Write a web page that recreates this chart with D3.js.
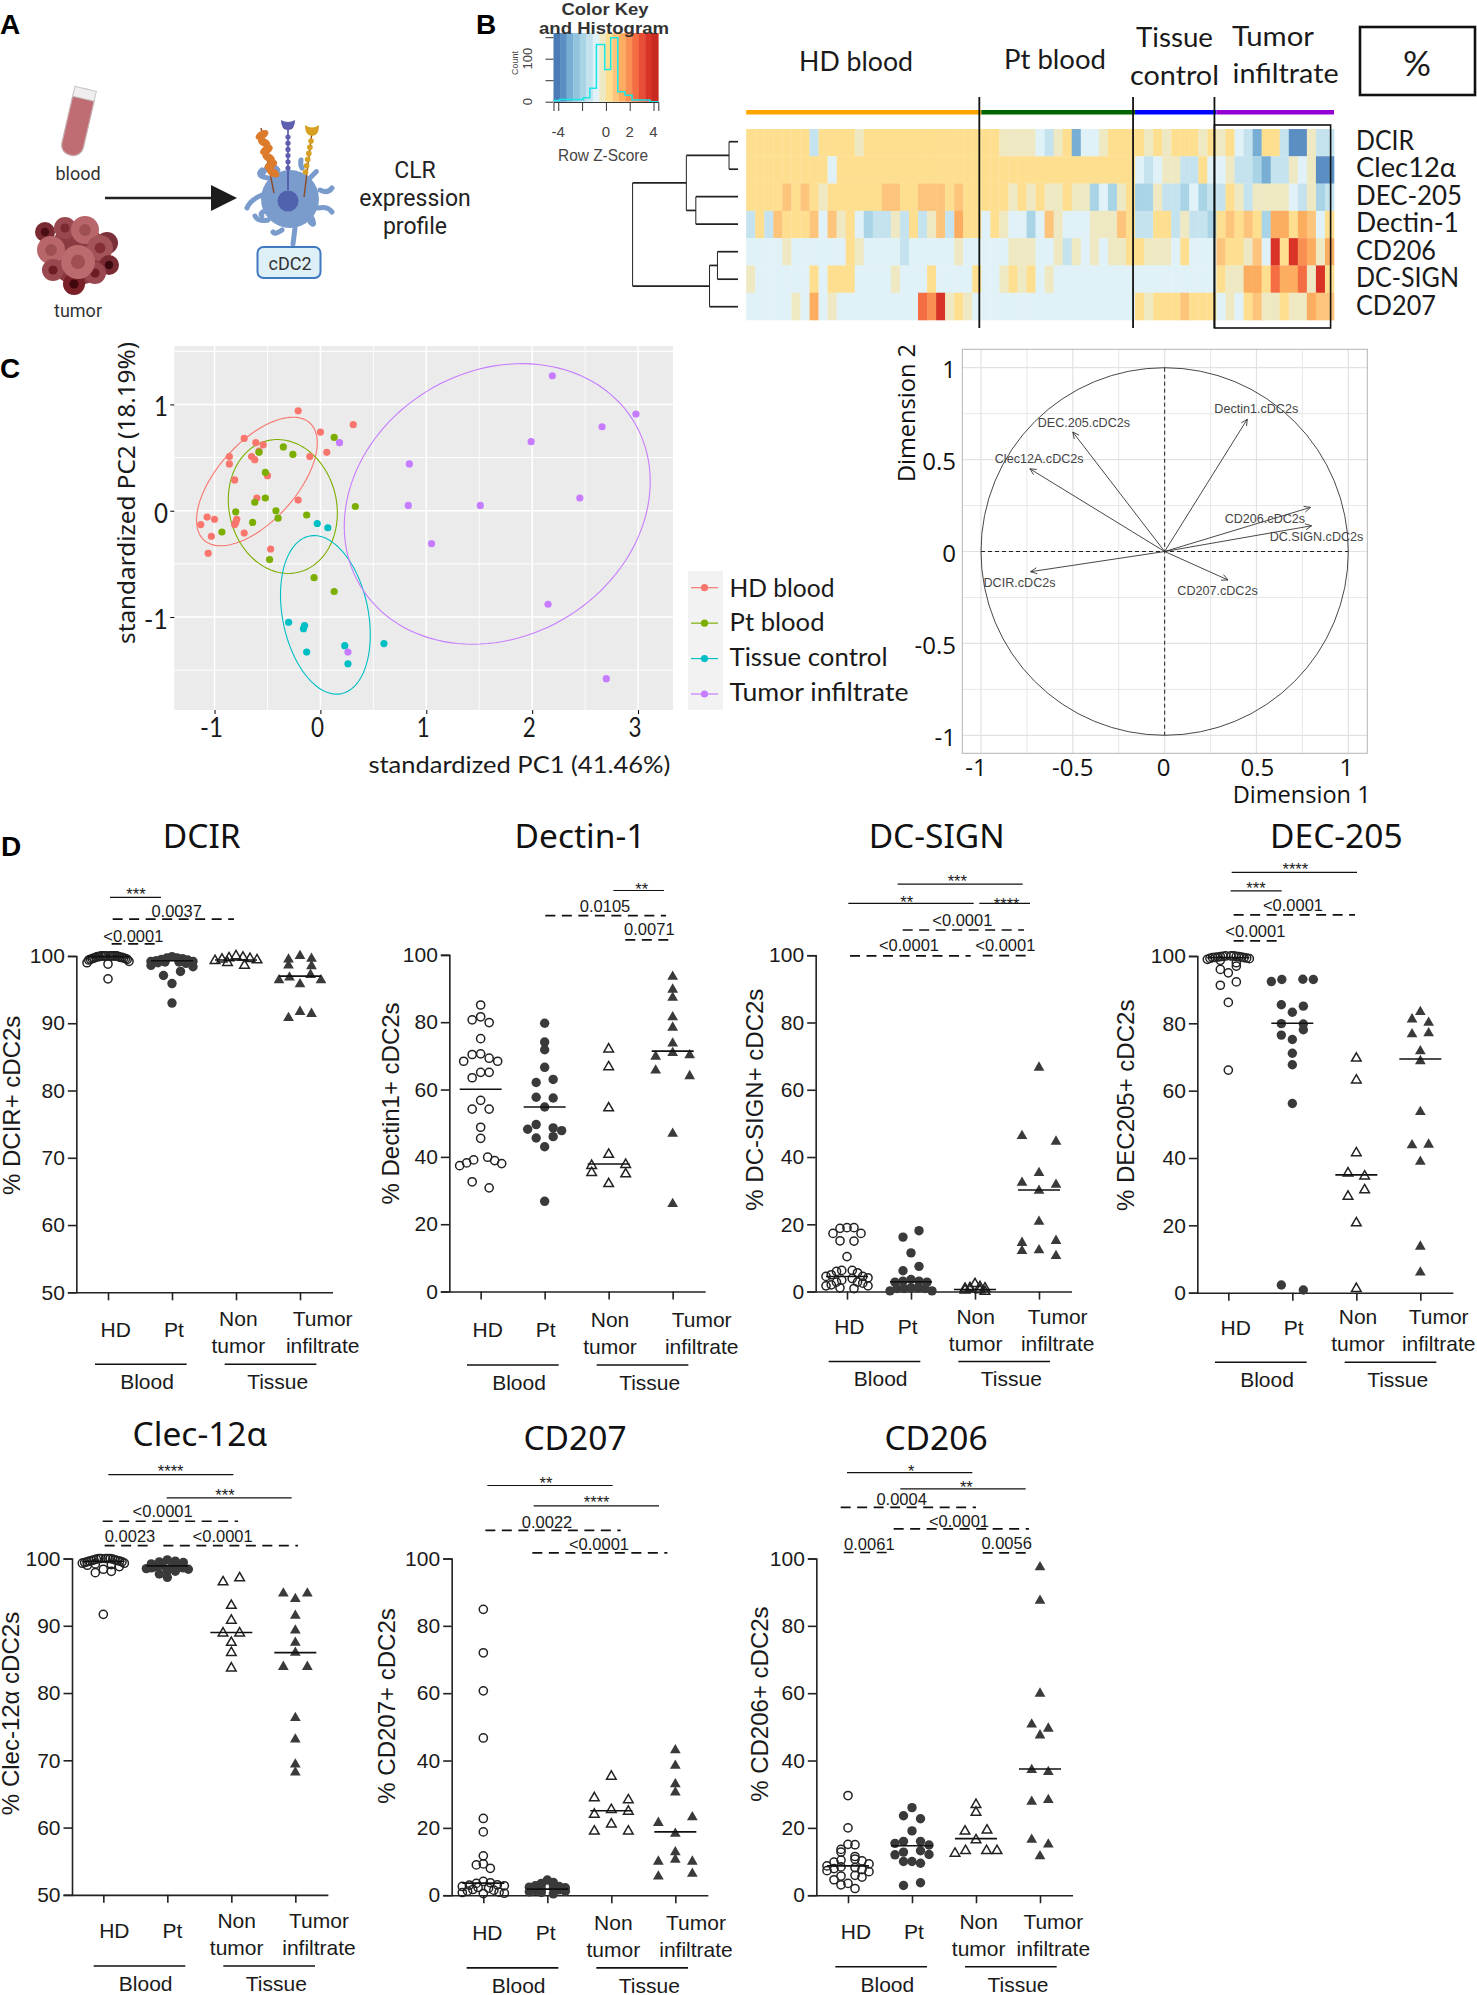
<!DOCTYPE html>
<html>
<head>
<meta charset="utf-8">
<script src="https://cdnjs.cloudflare.com/ajax/libs/d3/7.8.5/d3.min.js"></script>
<style>
  body { margin: 0; background: #fff; }
  svg { display: block; }
</style>
</head>
<body>
<svg id="fig" width="1477" height="1995"></svg>
<script>
// ---- panel B data ----
const heatLabels = ["DCIR", "Clec12α", "DEC-205", "Dectin-1", "CD206", "DC-SIGN", "CD207"];
// one letter per sample, letters are the z-score bins of heatBins
const heatRows = [
  "ggggggg d gggg f ggggggggggggggg ffff e d f g b ee f ggg g f g f ggg f g f g e d b gg d aa f dd",
  "ggggggggg e ggggggggggggggggggggggggggggggggg e d e ff dd g e e f dd c b dd f e f aa",
  "gggg h g h g f gggggg hh gg hhh g h ggggg f g f g ff g ff c e c f g cc f dd c e c d d g f d ffff e d f c d",
  "d g d h ggg h e h f g e c dd f d g d f h d i gg e g f ee c e h f eee fff h g dd gg d f dd c g h g h g c ii g i h e g",
  "eeee f eeeeee g f eeee d eeeee f eeeee fff ee f d f e f e ff g g fff e g eee h g g f h e l g l j i f i",
  "f eeeeee g e ggg eeee f eee g eeee g ee f g f g e f eeeeeeeee eeeeeeeee g f f i i g k i i k f l g",
  "eeeee f e i e f eeeeeeeee k j l f g f e eeeeeeeeeeeeeeeee g f ggg h ggg e f e g h f f g f f i h h"
];
const heatBins = { a: -3, b: -2.4, c: -1.8, d: -1.2, e: -0.6, f: 0, g: 0.6, h: 1.2, i: 1.6, j: 2.2, k: 2.8, l: 3.6 };
const heatBinColors = ["#5b8fc4", "#78add4", "#a8d4e6", "#c4e3ee", "#e0f2f7", "#eee8c3", "#fedf90", "#fdc47c", "#fdad60", "#f98f53", "#f46d43", "#d93327"];
const heatGroupSizes = [26, 17, 9, 13];
const heatGroupColors = ["#ffa500", "#006400", "#0000ff", "#9400d3"];
const keyColors = ["#4a7bb5", "#5b8fc4", "#78add4", "#94c3dd", "#a8d4e6", "#c4e3ee", "#e0f2f7", "#eee8c3", "#fedf90", "#fdc47c", "#fdad60", "#f98f53", "#f46d43", "#e64f35", "#d93327", "#c92a20"];
const keyEdges = [-4.4, -3.9, -1.9, -1.35, -0.8, -0.1, 0.4, 1, 1.6, 2.2, 3.7, 4.4];
const keyCounts = [3, 5, 9, 31, 133, 75, 149, 23, 15, 4, 0];
// merge heights of the row dendrogram, leaves are row indices
const dendroTree = { h: 1, kids: [
  { h: 0.49, kids: [{ h: 0.085, kids: [0, 1] }, { h: 0.4, kids: [2, 3] }] },
  { h: 0.27, kids: [{ h: 0.195, kids: [4, 5] }, 6] }
] };

// ---- panel C data ----
const pcaGroups = ["HD blood", "Pt blood", "Tissue control", "Tumor infiltrate"];
const pcaColors = ["#F8766D", "#7CAE00", "#00BFC4", "#C77CFF"];
const pcaHD = [[-0.21,0.94],[0,0.74],[0.31,0.81],[0.06,0.55],[-0.1,0.51],[-0.21,0.1],[-0.72,0.68],[-0.61,0.64],[-0.54,0.62],[-0.58,0.56],[-0.65,0.51],[-0.62,0.48],[-0.86,0.51],[-0.86,0.44],[-0.5,0.33],[-0.81,0.29],[-0.6,0.12],[-1.07,-0.06],[-1,-0.08],[-1.13,-0.13],[-1.03,-0.24],[-0.79,-0.08],[-0.81,-0.13],[-0.72,-0.21],[-0.47,-0.36],[-1.06,-0.4],[-0.8,-0.11]];
const pcaPt = [[0.13,0.69],[-0.35,0.6],[-0.58,0.55],[-0.26,0.53],[-0.52,0.36],[-0.52,0.12],[-0.62,0.08],[0.33,0.04],[-0.8,-0.01],[-0.42,0],[-0.4,-0.07],[-0.13,-0.04],[-0.64,-0.11],[-0.93,-0.2],[-0.48,-0.46],[-0.06,-0.63],[0.13,-0.76]];
const pcaTissue = [[-0.03,-0.12],[0.07,-0.16],[-0.3,-1.05],[-0.15,-1.08],[-0.16,-1.11],[0.23,-1.27],[0.6,-1.25],[-0.13,-1.33],[0.26,-1.44]];
const pcaTumor = [[2.19,1.27],[2.98,0.91],[2.66,0.79],[1.99,0.65],[0.18,0.64],[0.84,0.44],[2.45,0.12],[0.83,0.05],[1.51,0.05],[1.05,-0.31],[2.15,-0.88],[2.7,-1.58],[0.26,-1.33]];
// centre x, centre y, half width, half height, correlation
const pcaEllipses = [[-0.6,0.275,0.57,0.605,0.6],[-0.355,0.04,0.515,0.63,-0.1],[0.047,-0.98,0.424,0.746,-0.25],[1.67,0.064,1.445,1.32,0.16]];

// ---- correlation circle data ----
const varNames = ["DCIR.cDC2s", "Clec12A.cDC2s", "DEC.205.cDC2s", "Dectin1.cDC2s", "CD206.cDC2s", "DC.SIGN.cDC2s", "CD207.cDC2s"];
const varDim1 = [-0.73, -0.734, -0.5, 0.45, 0.794, 0.8, 0.345];
const varDim2 = [-0.11, 0.45, 0.65, 0.72, 0.24, 0.14, -0.155];
const varLabelDim1 = [-0.79, -0.683, -0.44, 0.499, 0.546, 0.827, 0.288];
const varLabelDim2 = [-0.174, 0.503, 0.699, 0.776, 0.178, 0.08, -0.214];

// ---- panel D data ----
const dcirHD = [100,100,100,100,100,100,100,100,100,99.9,99.9,99.9,99.8,99.8,99.8,99.7,99.7,99.6,99.6,99.5,99.5,99.4,99.2,99,98.8,96.6];
const dcirPt = [99.9,99.7,99.7,99.6,99.5,99.4,99.3,99.2,99.2,99.1,99.1,99,98.9,98.6,98.4,97.7,97.1,95.9,93];
const dcirNon = [100,99.8,99.7,99.6,99.5,99.4,99.3,99,98.6];
const dcirTum = [100,99.6,99.5,98.6,98.5,97.2,96.8,96.4,96.4,95.8,91.7,91.4,90.8];
const dcirMed = [99.9, 99.3, 99.4, 97];
const dectinHD = [85.1,81.6,79.9,80.7,75.1,70.6,70.4,69.3,68.4,68.4,65.1,65.1,63.5,56.8,54.2,54.2,48.8,45.5,39.9,39.1,38.9,38.2,38,37.4,32.6,30.8];
const dectinPt = [79.7,74.1,71.8,66.6,63,62.1,57.5,57.7,54.8,49.6,48.6,48.2,47.8,45.6,46,43,26.8];
const dectinNon = [72,66.7,54.5,40.7,37.4,37.7,34.9,35.3,32];
const dectinTum = [93.5,89.7,87.3,81.5,78.4,73.7,70.9,70.2,69.8,65.7,64,46.9,26];
const dectinMed = [60.1, 54.8, 37.9, 71.4];
const dcsignHD = [18.8,19,19,17.3,17.3,15.1,15,10.4,6.3,6.3,6,5.6,5,4.5,4.5,4.1,3.9,3.4,2.8,2.8,2.5,2,1.7,1.7,1.1,0.9];
const dcsignPt = [18.1,16.2,11.5,7.5,6.2,3.6,3.1,3.1,2.8,2.8,1.1,1.1,0.9,0.9,0.9,0.2,0.2];
const dcsignNon = [2.3,1.4,1.1,1,0.9,0.7,0.5,0.4,0];
const dcsignTum = [66.6,46.3,44.6,35.3,32.4,31.8,30,20.8,15.1,14.5,12.3,12.1,10.6];
const dcsignMed = [4.5, 2.9, 0.6, 30.2];
const dec205HD = [100,100,100,99.9,99.9,99.8,99.8,99.7,99.7,99.6,99.5,99.5,99.4,99.3,99.2,99,98.7,98,97,96,95,92.3,91.3,86.2,66.1];
const dec205Pt = [93,93.1,92.4,93,85.5,83.3,85.1,79.8,79.9,78.1,76.5,75.2,71.1,67.7,56.2,2.3,0.8];
const dec205Non = [69.6,63.1,41.5,35.5,34.6,30.5,28.6,20.7,1.2];
const dec205Tum = [83.4,80.2,77.1,81.2,76.8,71.7,68.8,53.7,44,43.8,38.9,13.7,6];
const dec205Med = [99.5, 80, 35, 69.4];
const clecHD = [100,100,100,100,100,99.9,99.9,99.8,99.8,99.7,99.7,99.6,99.6,99.5,99.5,99.4,99.3,99.3,99.2,99.1,99,98.8,98.4,98.1,97.9,91.7];
const clecPt = [99.8,99.6,99.5,99.4,99.2,99,98.9,98.8,98.8,98.6,98.6,98.5,98.4,98.2,98.1,97.7,97.2];
const clecNon = [97.1,96.5,93,90.8,88.9,88.9,87.5,86,83.7];
const clecTum = [94.8,94.8,94,91.5,89.3,87.5,86,83.9,83.9,76.3,73.1,69.4,68.2];
const clecMed = [99.6, 98.9, 89, 86];
const cd207HD = [84.9,72,60.7,46.7,22.8,18.8,11.7,9.3,9,8,4.1,3.7,3.5,3.1,3,2.8,2.6,2.3,2.1,1.7,1.5,1.2,0.9,0.8,0.6,0.5];
const cd207Pt = [4.5,3.8,3.5,3.2,3,2.8,2.6,2.4,2.2,2,1.8,1.6,1.4,1.2,1,0.8,0.4];
const cd207Non = [35.3,28.9,28.3,25.4,24.9,24,21.1,19,19];
const cd207Tum = [43.1,38.5,33,30.5,23.2,21.5,18.3,12.8,10.6,10,10,6.4,5.6];
const cd207Med = [3.6, 1.8, 25.1, 18.8];
const cd206HD = [29.6,20,15.1,15,13.6,12.8,11.5,10.7,10.4,10.2,9.8,9.3,8.7,8.4,8.2,7.9,7.6,7.3,7,5.9,5.7,5.4,4.6,3.5,3.1,2];
const cd206Pt = [26,23.6,22.7,19.1,16,16,15.4,14.9,13.2,12.8,12.1,12,10,10,9.5,3.7,2.9];
const cd206Non = [26.9,24.6,19.3,19,16.4,13.2,13.2,13.2,12.4];
const cd206Tum = [97.4,87.5,59.9,50.7,49.5,47.5,37.2,36.6,28.3,27.8,16.5,15.1,11.6];
const cd206Med = [8.7, 14.7, 16.8, 37.5];

// ---- significance brackets, [x1, x2, y, label, label x, label y] in crop units of the panel ----
const dcirBars = [[330,483,232,"***",408,212],[338,702,290,"0.0037",530,268],[335,478,356,"<0.0001",400,335]];
const dectinBars = [[730,882,214,"**",815,200],[526,888,281,"0.0105",705,254],[766,908,345,"0.0071",838,316]];
const dcsignBars = [[503,878,197,"***",682,177],[355,731,248,"**",530,235],[748,900,248,"****",830,238],[518,882,319,"<0.0001",697,292],[360,722,388,"<0.0001",537,360],[758,903,387,"<0.0001",826,360]];
const dec205Bars = [[404,780,166,"****",595,145],[401,554,215,"***",477,196],[410,774,279,"<0.0001",588,252],[410,555,348,"<0.0001",475,322]];
const clecBars = [[325,700,185,"****",512,165],[500,875,247,"***",675,228],[308,714,309,"<0.0001",488,282],[314,460,374,"0.0023",390,347],[490,894,374,"<0.0001",668,347]];
const cd207Bars = [[352,728,214,"**",528,198],[491,867,268,"****",680,248],[346,752,333,"0.0022",531,310],[487,892,393,"<0.0001",687,370]];
const cd206Bars = [[351,727,180,"*",544,165],[511,887,223,"**",709,208],[332,738,272,"0.0004",515,250],[491,897,329,"<0.0001",687,307],[341,487,392,"0.0061",418,370],[758,902,393,"0.0056",830,367]];

const ARIAL = '"Liberation Sans", Arial, sans-serif';
const NARROW = '"Liberation Sans Narrow", "Liberation Sans", sans-serif';
const LATO = 'Lato, "Open Sans", sans-serif';
const NOTO = '"Noto Sans", "Open Sans", sans-serif';
const ROBOTO = 'Roboto, "Open Sans", sans-serif';
const OPEN = '"Open Sans", sans-serif';

const svg = d3.select("#fig");

function addText(parent, x, y, str, o) {
    o = o || {};
    const t = parent.append("text")
        .attr("x", x).attr("y", y)
        .attr("text-anchor", o.anchor || "middle")
        .attr("dominant-baseline", o.base || "central")
        .style("font-family", o.font || ARIAL)
        .style("font-size", (o.size || 16) + "px")
        .style("fill", o.color || "#1a1a1a")
        .text(str);
    if (o.weight) t.style("font-weight", o.weight);
    if (o.len) t.attr("textLength", o.len).attr("lengthAdjust", "spacingAndGlyphs");
    if (o.rot) t.attr("transform", `rotate(${o.rot} ${x} ${y})`);
    return t;
}

// ---- panel A, small sketch of blood, tumor and a cDC2 ----
function drawSchematic() {
    const a = svg.append("g");

    // blood tube
    const tube = a.append("g").attr("transform", "translate(78,122) rotate(13)");
    tube.append("rect").attr("x", -11).attr("y", -34).attr("width", 22).attr("height", 68).attr("rx", 10)
        .attr("fill", "#bf6d73").attr("stroke", "#c7aeb0").attr("stroke-width", 1.2);
    tube.append("rect").attr("x", -11).attr("y", -34).attr("width", 22).attr("height", 10).attr("fill", "#f0eeee").attr("stroke", "#c9c9c9");
    addText(a, 78, 173, "blood", { size: 18, font: ROBOTO, color: "#333" });

    // tumor: a clump of cells
    a.append("circle").attr("cx", 78).attr("cy", 255).attr("r", 30).attr("fill", "#8a3a42");
    const tumorCells = [[45,232,10,"#7a2a33","#4a0d14"],[65,228,11,"#9a4850","#7a2a33"],[85,230,14,"#b9666b","#9e4f52"],[107,243,11,"#7a3038","#5a1a22"],[100,248,13,"#a35459","#842f38"],[51,250,14,"#b9666b","#9e4f52"],[53,270,11,"#9a4850","#6d1d26"],[109,265,10,"#7a2a33","#3c0810"],[95,273,11,"#9a4850","#6d1d26"],[74,284,11,"#7a2028","#42070d"],[78,262,17,"#bb6a6d","#a14f52"]];
    tumorCells.forEach(c => {
        a.append("circle").attr("cx", c[0]).attr("cy", c[1]).attr("r", c[2]).attr("fill", c[3]);
        a.append("circle").attr("cx", c[0]).attr("cy", c[1]).attr("r", c[2] * 0.42).attr("fill", c[4]);
    });
    addText(a, 78, 310, "tumor", { size: 18, font: ROBOTO, color: "#333" });

    // arrow
    a.append("line").attr("x1", 105).attr("y1", 198).attr("x2", 215).attr("y2", 198).attr("stroke", "#222").attr("stroke-width", 2.5);
    a.append("path").attr("d", "M211,185 L237,198 L211,211 Z").attr("fill", "#1c1c1c");

    // cell body and dendrites
    const dendrites = ["M262,195 Q250,200 247,208", "M268,178 Q255,176 262,170", "M278,170 Q270,160 262,175", "M320,190 Q328,194 332,188", "M310,178 Q318,170 316,172", "M268,220 Q258,222 255,216", "M282,230 Q275,235 273,232", "M295,228 L293,244", "M310,222 Q316,228 312,218", "M318,208 Q328,206 332,212", "M302,168 Q300,165 301,160", "M270,210 Q258,212 262,216"];
    a.append("g").selectAll("path").data(dendrites).join("path").attr("d", d => d)
        .attr("fill", "none").attr("stroke", "#7a9ccc").attr("stroke-width", 5).attr("stroke-linecap", "round");
    a.append("circle").attr("cx", 290).attr("cy", 199).attr("r", 29).attr("fill", "#7a9ccc");
    a.append("circle").attr("cx", 288).attr("cy", 201).attr("r", 10.5).attr("fill", "#5062ad");

    // receptors
    a.append("line").attr("x1", 261).attr("y1", 128).attr("x2", 274).attr("y2", 193).attr("stroke", "#8b4a26").attr("stroke-width", 1.4);
    d3.range(6).forEach(i => {
        a.append("ellipse").attr("cx", 262 + i * 2.2).attr("cy", 135 + i * 7.5).attr("rx", 7).attr("ry", 4)
            .attr("transform", `rotate(${i % 2 ? 30 : -30} ${262 + i * 2.2} ${135 + i * 7.5})`).attr("fill", "#dc7b2b");
    });
    a.append("line").attr("x1", 288).attr("y1", 125).attr("x2", 288).attr("y2", 190).attr("stroke", "#4f50a6").attr("stroke-width", 1.6);
    d3.range(6).forEach(i => a.append("circle").attr("cx", 288).attr("cy", 137 + i * 6.2).attr("r", 2.6).attr("fill", "#5f5eb0"));
    a.append("path").attr("d", "M281,120 Q288,124 295,120 Q295,130 288,130 Q281,130 281,120 Z").attr("fill", "#5f5eb0");
    a.append("line").attr("x1", 312).attr("y1", 132).attr("x2", 304).attr("y2", 197).attr("stroke", "#8b4a26").attr("stroke-width", 1.4);
    d3.range(6).forEach(i => a.append("circle").attr("cx", 311 - i * 1.1).attr("cy", 141 + i * 6.2).attr("r", 2.8).attr("fill", "#d8a021"));
    a.append("path").attr("d", "M305,125 Q312,130 319,125 Q319,136 312,136 Q305,136 305,125 Z").attr("fill", "#d8a021");

    a.append("rect").attr("x", 257.5).attr("y", 247).attr("width", 63).attr("height", 31).attr("rx", 6)
        .attr("fill", "#def0f7").attr("stroke", "#3f79c0").attr("stroke-width", 2);
    addText(a, 290, 263, "cDC2", { size: 18, font: ROBOTO, color: "#333" });

    addText(a, 415, 170, "CLR", { size: 23, font: ROBOTO, color: "#222" });
    addText(a, 415, 198, "expression", { size: 23, font: ROBOTO, color: "#222" });
    addText(a, 415, 226, "profile", { size: 23, font: ROBOTO, color: "#222" });
}

// ---- panel B ----
function drawHeatmap() {
    const nCols = d3.sum(heatGroupSizes);
    const g = svg.append("g");
    const x = d3.scaleLinear([0, nCols], [746.2, 1334]);
    const y = d3.scaleBand(d3.range(heatLabels.length), [129, 320]);
    const color = d3.scaleOrdinal(Object.values(heatBins), heatBinColors);

    heatRows.forEach((row, r) => {
        const z = row.replace(/ /g, "").split("").map(c => heatBins[c]);
        g.append("g").selectAll("rect").data(z).join("rect")
            .attr("x", (d, i) => x(i)).attr("y", y(r))
            .attr("width", x(1) - x(0) + 0.3).attr("height", y.bandwidth() + 0.3)
            .attr("fill", d => color(d));
    });

    // group colour bar and separators
    let start = 0;
    heatGroupSizes.forEach((n, i) => {
        g.append("rect").attr("x", x(start)).attr("y", 110).attr("width", x(n) - x(0)).attr("height", 4.5).attr("fill", heatGroupColors[i]);
        if (i > 0) g.append("line").attr("x1", x(start) - 2).attr("x2", x(start) - 2).attr("y1", 97).attr("y2", 328).attr("stroke", "#111").attr("stroke-width", 1.8);
        start += n;
    });
    const tumorLeft = x(nCols - 13) - 2;
    g.append("rect").attr("x", tumorLeft).attr("y", 125).attr("width", 1330.6 - tumorLeft).attr("height", 203)
        .attr("fill", "none").attr("stroke", "#111").attr("stroke-width", 1.6);

    addText(g, 856, 60, "HD blood", { font: LATO, size: 27, len: 114 });
    addText(g, 1055, 58, "Pt blood", { font: LATO, size: 27, len: 102 });
    addText(g, 1174.5, 36, "Tissue", { font: LATO, size: 27, len: 77 });
    addText(g, 1174.5, 74, "control", { font: LATO, size: 27, len: 89 });
    addText(g, 1273, 35, "Tumor", { font: LATO, size: 27, len: 82 });
    addText(g, 1285.6, 72, "infiltrate", { font: LATO, size: 27, len: 106 });

    g.append("rect").attr("x", 1360).attr("y", 27).attr("width", 115).attr("height", 68).attr("fill", "none").attr("stroke", "#111").attr("stroke-width", 2.6);
    addText(g, 1417, 62, "%", { font: LATO, size: 34, len: 28 });

    const leafY = d3.scalePoint(d3.range(heatLabels.length), [141.7, 306.7]);
    const labelW = [58, 100, 106, 103, 80, 103, 80];
    heatLabels.forEach((s, i) => addText(g, 1356, leafY(i) - 2, s, { anchor: "start", font: LATO, size: 26, len: labelW[i] }));

    // dendrogram
    const h = d3.scaleLinear([0, 1], [738, 632.6]);
    function walk(node) {
        if (typeof node === "number") return { x: h(0), y: leafY(node) };
        const pts = node.kids.map(walk);
        const nx = h(node.h), ny = d3.mean(pts, p => p.y);
        g.append("line").attr("x1", nx).attr("x2", nx).attr("y1", pts[0].y).attr("y2", pts[1].y).attr("stroke", "#222").attr("stroke-width", 1);
        pts.forEach(p => g.append("line").attr("x1", nx).attr("x2", p.x).attr("y1", p.y).attr("y2", p.y).attr("stroke", "#222").attr("stroke-width", 1.7));
        return { x: nx, y: ny };
    }
    walk(dendroTree);

    // colour key with histogram
    const keyX = d3.scaleLinear([-4.4, 4.4], [553.5, 658.3]);
    const keyY = d3.scaleLinear([0, 100], [101.7, 58.7]);
    const band = d3.scaleBand(d3.range(keyColors.length), keyX.range());
    g.append("g").selectAll("rect").data(keyColors).join("rect")
        .attr("x", (d, i) => band(i)).attr("y", 33).attr("width", band.bandwidth() + 0.3).attr("height", 68.7).attr("fill", d => d);
    const histPts = keyCounts.map((c, i) => [keyEdges[i], c]).concat([[keyEdges[keyEdges.length - 1], 0]]);
    g.append("path").attr("d", d3.line().curve(d3.curveStepAfter).x(d => keyX(d[0])).y(d => keyY(d[1]))(histPts))
        .attr("fill", "none").attr("stroke", "#19e6e6").attr("stroke-width", 1.5);
    const kAxis = g.append("g").attr("transform", "translate(0,102)")
        .call(d3.axisBottom(keyX).tickValues([-4, -2, 0, 2, 4]).tickSize(9).tickFormat(""));
    kAxis.select(".domain").attr("stroke", "#333");
    kAxis.selectAll("line").attr("stroke", "#333");
    [-4, 0, 2, 4].forEach(v => addText(g, keyX(v), 131, v, { font: NARROW, size: 15, color: "#444" }));
    const kyAxis = g.append("g").attr("transform", "translate(553.5,0)")
        .call(d3.axisLeft(keyY).tickValues([0, 50, 100, 150]).tickSize(8).tickFormat(""));
    kyAxis.select(".domain").remove();
    kyAxis.selectAll("line").attr("stroke", "#333");
    addText(g, 528, 101.7, "0", { font: NARROW, size: 13, rot: -90, color: "#444" });
    addText(g, 528, 58.7, "100", { font: NARROW, size: 13, rot: -90, color: "#444" });
    addText(g, 515, 63, "Count", { font: NARROW, size: 9, rot: -90, color: "#444" });
    addText(g, 605, 9, "Color Key", { font: NARROW, size: 17, weight: 700, len: 87, color: "#333" });
    addText(g, 604, 28, "and Histogram", { font: NARROW, size: 17, weight: 700, len: 130, color: "#333" });
    addText(g, 603, 155, "Row Z-Score", { font: NARROW, size: 16, len: 90, color: "#444" });
}

// ---- panel C, scatter ----
function drawPca() {
    const g = svg.append("g");
    const x = d3.scaleLinear([-1.38, 3.33], [174.3, 673]);
    const y = d3.scaleLinear([-1.875, 1.55], [710, 346]);
    g.append("rect").attr("x", 174.3).attr("y", 346).attr("width", 498.7).attr("height", 364).attr("fill", "#ebebeb");

    [-0.5, 0.5, 1.5, 2.5].forEach(v => g.append("line").attr("x1", x(v)).attr("x2", x(v)).attr("y1", 346).attr("y2", 710).attr("stroke", "#fff").attr("stroke-width", 0.8));
    [-1.5, -0.5, 0.5, 1.5].forEach(v => g.append("line").attr("y1", y(v)).attr("y2", y(v)).attr("x1", 174.3).attr("x2", 673).attr("stroke", "#fff").attr("stroke-width", 1));
    [-1, 0, 1, 2, 3].forEach(v => g.append("line").attr("x1", x(v)).attr("x2", x(v)).attr("y1", 346).attr("y2", 710).attr("stroke", "#fff").attr("stroke-width", 1.5));
    [-1, 0, 1].forEach(v => g.append("line").attr("y1", y(v)).attr("y2", y(v)).attr("x1", 174.3).attr("x2", 673).attr("stroke", "#fff").attr("stroke-width", 1.5));

    const ell = d3.line().curve(d3.curveLinearClosed);
    pcaEllipses.forEach((e, i) => {
        const pts = d3.range(0, 2 * Math.PI, 0.05).map(t => [x(e[0] + e[2] * Math.cos(t)), y(e[1] + e[3] * Math.cos(t - Math.acos(e[4])))]);
        g.append("path").attr("d", ell(pts)).attr("fill", "none").attr("stroke", pcaColors[i]).attr("stroke-width", 1.1);
    });
    [pcaHD, pcaPt, pcaTissue, pcaTumor].forEach((pts, i) => {
        g.append("g").selectAll("circle").data(pts).join("circle")
            .attr("cx", d => x(d[0])).attr("cy", d => y(d[1])).attr("r", 3.6).attr("fill", pcaColors[i]);
    });

    const xa = g.append("g").attr("transform", "translate(0,710)").call(d3.axisBottom(x).tickValues([-1, 0, 1, 2, 3]).tickSize(4).tickFormat(""));
    xa.select(".domain").remove();
    const ya = g.append("g").attr("transform", "translate(174.3,0)").call(d3.axisLeft(y).tickValues([-1, 0, 1]).tickSize(4).tickFormat(""));
    ya.select(".domain").remove();
    [-1, 0, 1, 2, 3].forEach(v => addText(g, x(v) - 3, 727, v, { font: LATO, size: 26, len: v < 0 ? 23 : 13 }));
    [-1, 0, 1].forEach(v => addText(g, 168, y(v) + 2, v, { anchor: "end", font: LATO, size: 26, len: v < 0 ? 24 : 14 }));

    addText(g, 519.4, 763, "standardized PC1 (41.46%)", { font: LATO, size: 24, len: 302 });
    addText(g, 126, 493, "standardized PC2 (18.19%)", { font: NOTO, size: 23, len: 302, rot: -90 });

    // legend
    g.append("rect").attr("x", 688).attr("y", 571).attr("width", 35).attr("height", 139).attr("fill", "#f2f2f2");
    const legY = d3.scalePoint(pcaGroups, [587.7, 694]);
    const legW = [105, 95, 158, 179];
    pcaGroups.forEach((s, i) => {
        g.append("line").attr("x1", 691).attr("x2", 718).attr("y1", legY(s)).attr("y2", legY(s)).attr("stroke", pcaColors[i]).attr("stroke-width", 1.2);
        g.append("circle").attr("cx", 704.5).attr("cy", legY(s)).attr("r", 3.6).attr("fill", pcaColors[i]);
        addText(g, 729.5, legY(s) - 1 - i * 0.7, s, { anchor: "start", font: LATO, size: 25, len: legW[i] });
    });
}

// ---- panel C, correlation circle ----
function drawCircle() {
    const g = svg.append("g");
    const x = d3.scaleLinear([-1, 1], [981, 1348.3]);
    const y = d3.scaleLinear([-1, 1], [735.3, 367.7]);
    const gridVals = d3.range(-1, 1.01, 0.25);
    gridVals.forEach(v => {
        const w = Math.abs(v * 2 % 1) < 1e-9 ? 1.2 : 0.8;
        g.append("line").attr("x1", x(v)).attr("x2", x(v)).attr("y1", 349.3).attr("y2", 753.3).attr("stroke", "#e2e2e2").attr("stroke-width", w);
        g.append("line").attr("y1", y(v)).attr("y2", y(v)).attr("x1", 962.3).attr("x2", 1367.3).attr("stroke", "#e2e2e2").attr("stroke-width", w);
    });
    g.append("rect").attr("x", 962.3).attr("y", 349.3).attr("width", 405).attr("height", 404).attr("fill", "none").attr("stroke", "#b5b5b5").attr("stroke-width", 1);
    g.append("ellipse").attr("cx", x(0)).attr("cy", y(0)).attr("rx", x(1) - x(0)).attr("ry", y(0) - y(1)).attr("fill", "none").attr("stroke", "#333").attr("stroke-width", 0.9);
    g.append("line").attr("x1", x(-1)).attr("x2", x(1)).attr("y1", y(0)).attr("y2", y(0)).attr("stroke", "#222").attr("stroke-dasharray", "4,3");
    g.append("line").attr("x1", x(0)).attr("x2", x(0)).attr("y1", y(1)).attr("y2", y(-1)).attr("stroke", "#222").attr("stroke-dasharray", "4,3");

    varNames.forEach((name, i) => {
        const tx = x(varDim1[i]), ty = y(varDim2[i]);
        const a = Math.atan2(ty - y(0), tx - x(0));
        const head = [a + 0.45, a - 0.45].map(b => [tx - 7 * Math.cos(b), ty - 7 * Math.sin(b)]);
        g.append("path").attr("d", `M${x(0)},${y(0)} L${tx},${ty} M${head[0]} L${tx},${ty} L${head[1]}`)
            .attr("fill", "none").attr("stroke", "#333").attr("stroke-width", 0.9);
        addText(g, x(varLabelDim1[i]), y(varLabelDim2[i]), name, { size: 12.6, color: "#444" });
    });

    const tickX = [-1, -0.5, 0, 0.5, 1];
    const tickShiftX = [-5, 0, -1, 1, -2];
    tickX.forEach((v, i) => addText(g, x(v) + tickShiftX[i], 766, v, { font: OPEN, size: 24, color: "#111" }));
    tickX.forEach(v => addText(g, 956, y(v) + 1, v, { anchor: "end", font: OPEN, size: 24, color: "#111" }));
    addText(g, 1301.7, 794, "Dimension 1", { font: OPEN, size: 23, len: 138, color: "#111" });
    addText(g, 906, 413, "Dimension 2", { font: OPEN, size: 23, len: 138, rot: -90, color: "#111" });
}

// ---- panel D ----
// graphpad style scatter: bin close values in a row, spread each row around the group centre
function swarm(values, yScale, step, binPx) {
    const sorted = values.slice().sort(d3.descending);
    const bins = [];
    sorted.forEach(v => {
        const last = bins[bins.length - 1];
        if (last && yScale(v) - yScale(last[0]) < binPx) last.push(v);
        else bins.push([v]);
    });
    const placed = [];
    bins.forEach((bin, bi) => {
        const n = bin.length;
        const s = n > 1 ? Math.min(step, (n % 2 ? 42 / (n - 1) : 42 / n)) : step;
        bin.forEach((v, i) => {
            const flip = bi % 2 ? -1 : 1;
            let col;
            if (n % 2) col = i === 0 ? 0 : (i % 2 ? (i + 1) / 2 : -i / 2);
            else col = i % 2 ? -(i + 1) / 2 : (i + 2) / 2;
            placed.push({ dx: col * flip * s, py: yScale(v), v });
        });
    });
    return placed;
}

const panels = [
    { title: "DCIR", yLabel: "% DCIR+ cDC2s", series: [dcirHD, dcirPt, dcirNon, dcirTum], med: dcirMed, bars: dcirBars, domain: [50, 100], ox: 0, oy: 810, ax: 229, top: 388, bot: 1282, t0: 324, titleX: 605, titleY: 67, ylx: 36, yly: 785, hdOff: 23, ptOff: 198, nonOff: 391, tumOff: 644, ly: 1380, swarm: [[8.5, 8], [8.5, 5], [8.5, 5], [11.5, 8]] },
    { title: "Dectin-1", yLabel: "% Dectin1+ cDC2s", series: [dectinHD, dectinPt, dectinNon, dectinTum], med: dectinMed, bars: dectinBars, domain: [0, 100], ox: 370, oy: 810, ax: 238, top: 385, bot: 1280, t0: 332, titleX: 630, titleY: 67, ylx: 62, yly: 780, hdOff: 21, ptOff: 195, nonOff: 388, tumOff: 663, ly: 1382, swarm: [[8.5, 9], [8.5, 7], [17, 7], [17, 7]] },
    { title: "DC-SIGN", yLabel: "% DC-SIGN+ cDC2s", series: [dcsignHD, dcsignPt, dcsignNon, dcsignTum], med: dcsignMed, bars: dcsignBars, domain: [0, 100], ox: 730, oy: 810, ax: 257, top: 386, bot: 1280, t0: 351, titleX: 620, titleY: 67, ylx: 73, yly: 770, hdOff: 7, ptOff: 182, nonOff: 386, tumOff: 632, ly: 1373, swarm: [[7, 8], [8, 8], [5, 5], [17, 7]] },
    { title: "DEC-205", yLabel: "% DEC205+ cDC2s", series: [dec205HD, dec205Pt, dec205Non, dec205Tum], med: dec205Med, bars: dec205Bars, domain: [0, 100], ox: 1097, oy: 810, ax: 301, top: 388, bot: 1283, t0: 394, titleX: 718, titleY: 67, ylx: 87, yly: 785, hdOff: 22, ptOff: 196, nonOff: 389, tumOff: 631, ly: 1375, swarm: [[8, 4], [11, 6], [8.3, 7], [8.3, 6]] },
    { title: "Clec-12α", yLabel: "% Clec-12α cDC2s", series: [clecHD, clecPt, clecNon, clecTum], med: clecMed, bars: clecBars, domain: [50, 100], ox: 0, oy: 1405, ax: 216, top: 408, bot: 1302, t0: 310, titleX: 600, titleY: 75, ylx: 33, yly: 820, hdOff: 33, ptOff: 207, nonOff: 400, tumOff: 647, ly: 1398, swarm: [[8, 5], [8, 5], [8.3, 5], [12, 5]] },
    { title: "CD207", yLabel: "% CD207+ cDC2s", series: [cd207HD, cd207Pt, cd207Non, cd207Tum], med: cd207Med, bars: cd207Bars, domain: [0, 100], ox: 370, oy: 1405, ax: 245, top: 408, bot: 1303, t0: 340, titleX: 615, titleY: 85, ylx: 50, yly: 800, hdOff: 12, ptOff: 187, nonOff: 390, tumOff: 638, ly: 1403, swarm: [[7, 6], [6, 4], [17, 5], [17, 6]] },
    { title: "CD206", yLabel: "% CD206+ cDC2s", series: [cd206HD, cd206Pt, cd206Non, cd206Tum], med: cd206Med, bars: cd206Bars, domain: [0, 100], ox: 730, oy: 1405, ax: 259, top: 408, bot: 1303, t0: 354, titleX: 618, titleY: 85, ylx: 90, yly: 795, hdOff: 24, ptOff: 198, nonOff: 392, tumOff: 616, ly: 1400, swarm: [[7, 7], [8.5, 6], [11, 6], [8.3, 6]] }
];

const triFilled = d3.symbol().type(d3.symbolTriangle).size(50);
const triOpen = d3.symbol().type(d3.symbolTriangle).size(40);

function drawDotPanels() {
    panels.forEach(p => {
        // p's layout numbers come from crops, 3x wide and 2.658x tall
        const c = z => z / 3;
        const cy = z => z / 2.658;
        const g = svg.append("g").attr("transform", `translate(${p.ox},${p.oy})`);
        const tick0 = c(p.t0), spacing = 64;
        const x = d3.scaleLinear([0, 3], [tick0, tick0 + 3 * spacing]);
        const y = d3.scaleLinear(p.domain, [cy(p.bot), cy(p.top)]);

        const yAxis = d3.axisLeft(y).tickSizeOuter(0).tickSize(8.5)
            .tickValues(p.domain[0] === 50 ? [50, 60, 70, 80, 90, 100] : [0, 20, 40, 60, 80, 100]);
        const yg = g.append("g").attr("transform", `translate(${c(p.ax)},0)`).call(yAxis);
        const xg = g.append("g").attr("transform", `translate(0,${cy(p.bot)})`)
            .call(d3.axisBottom(d3.scaleLinear([x.invert(c(p.ax)), x.invert(tick0 + 3 * spacing + 32.5)], [c(p.ax), tick0 + 3 * spacing + 32.5]))
                .tickValues([0, 1, 2, 3]).tickSize(8).tickSizeOuter(0).tickFormat(""));
        [yg, xg].forEach(a => {
            a.selectAll("path,line").attr("stroke", "#222").attr("stroke-width", 1.6);
        });
        yg.selectAll("text").style("font-family", ARIAL).style("font-size", "21px").style("fill", "#1a1a1a");

        p.series.forEach((vals, gi) => {
            const step = p.swarm[gi][0], binPx = p.swarm[gi][1];
            const pts = swarm(vals, y, step, binPx);
            const layer = g.append("g");
            const cx = x(gi);
            if (gi < 2) {
                layer.selectAll("circle").data(pts).join("circle")
                    .attr("cx", d => cx + d.dx).attr("cy", d => d.py)
                    .attr("r", gi === 0 ? 4.1 : 4.7)
                    .attr("fill", gi === 0 ? "none" : "#3a3a3a")
                    .attr("stroke", gi === 0 ? "#222" : "none").attr("stroke-width", 1.5);
            } else {
                layer.selectAll("path").data(pts).join("path")
                    .attr("d", gi === 2 ? triOpen : triFilled)
                    .attr("transform", d => `translate(${cx + d.dx},${d.py})`)
                    .attr("fill", gi === 2 ? "none" : "#3a3a3a")
                    .attr("stroke", gi === 2 ? "#222" : "none").attr("stroke-width", 1.5);
            }
            layer.append("line").attr("x1", cx - 21).attr("x2", cx + 21)
                .attr("y1", y(p.med[gi])).attr("y2", y(p.med[gi])).attr("stroke", "#111").attr("stroke-width", 1.6);
        });

        // category labels under the axis
        const base = p.ly, d = p.hdOff;
        addText(g, c(p.t0 + d), cy(base), "HD", { size: 21 });
        addText(g, c(p.t0 + p.ptOff), cy(base), "Pt", { size: 21 });
        addText(g, c(p.t0 + p.nonOff), cy(base - 28), "Non", { size: 21 });
        addText(g, c(p.t0 + p.nonOff), cy(base + 44), "tumor", { size: 21 });
        addText(g, c(p.t0 + p.tumOff), cy(base - 28), "Tumor", { size: 21 });
        addText(g, c(p.t0 + p.tumOff), cy(base + 44), "infiltrate", { size: 21 });
        [[d - 62, d + 213, d + 94, "Blood"], [d + 327, d + 602, d + 486, "Tissue"]].forEach(b => {
            g.append("line").attr("x1", c(p.t0 + b[0])).attr("x2", c(p.t0 + b[1])).attr("y1", cy(base + 93)).attr("y2", cy(base + 93)).attr("stroke", "#111").attr("stroke-width", 1.6);
            addText(g, c(p.t0 + b[2]), cy(base + 139), b[3], { size: 21 });
        });

        addText(g, c(p.titleX), cy(p.titleY), p.title, { font: NOTO, size: 33.5, color: "#111" });
        addText(g, c(p.ylx), cy(p.yly), p.yLabel, { size: 24, rot: -90 });

        // significance brackets
        p.bars.forEach(b => {
            const stars = b[3].indexOf("*") >= 0;
            g.append("line").attr("x1", c(b[0])).attr("x2", c(b[1])).attr("y1", cy(b[2])).attr("y2", cy(b[2]))
                .attr("stroke", "#111").attr("stroke-width", stars ? 1.2 : 1.7)
                .attr("stroke-dasharray", stars ? null : "10,6.5");
            if (stars) addText(g, c(b[4]), cy(b[5]) + 4, b[3], { size: 16.5 });
            else addText(g, c(b[4]), cy(b[5]), b[3], { size: 16.5 });
        });
    });
}

// panel letters
addText(svg, 0, 24, "A", { anchor: "start", size: 28, weight: 700, color: "#000" });
addText(svg, 476, 24, "B", { anchor: "start", size: 28, weight: 700, color: "#000" });
addText(svg, 0, 368, "C", { anchor: "start", size: 28, weight: 700, color: "#000" });
addText(svg, 1, 846, "D", { anchor: "start", size: 28, weight: 700, color: "#000" });

drawSchematic();
drawHeatmap();
drawPca();
drawCircle();
drawDotPanels();
</script>
</body>
</html>
